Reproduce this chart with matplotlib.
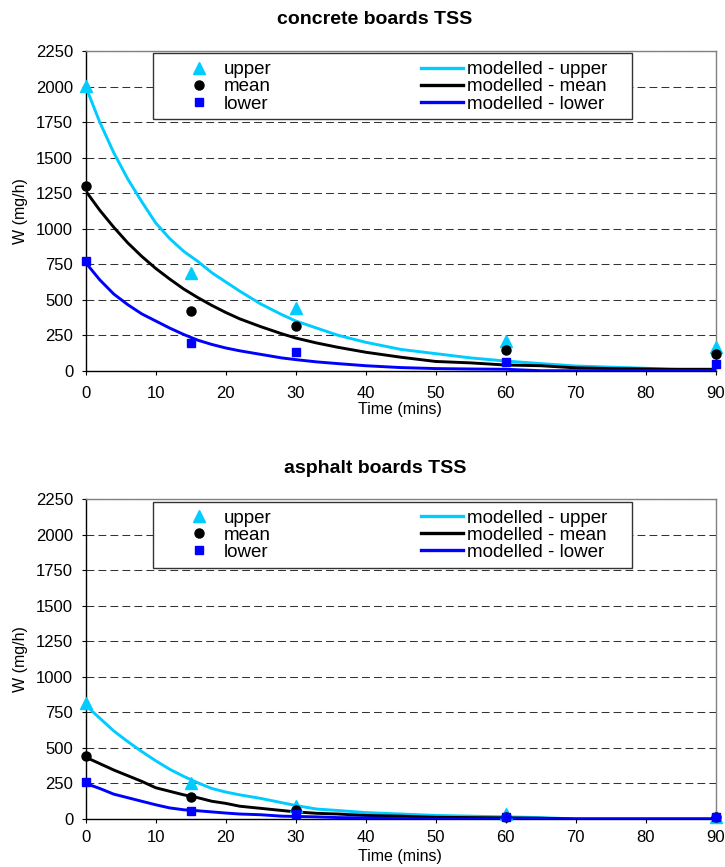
import matplotlib
matplotlib.use("Agg")
import matplotlib.pyplot as plt
from matplotlib.lines import Line2D
from matplotlib.patches import Rectangle

plt.rcParams['font.family'] = ['Liberation Sans', 'DejaVu Sans']

# observed data
t_obs = [0, 15, 30, 60, 90]
conc_upper = [2005, 685, 440, 212, 165]
conc_mean = [1300, 422, 315, 146, 115]
conc_lower = [775, 197, 135, 59, 47]
asph_upper = [814, 255, 95, 35, 15]
asph_mean = [445, 157, 60, 15, 12]
asph_lower = [260, 58, 35, 16, 15]

# modelled curves
t_mod = [0, 2, 4, 6, 8, 10, 12, 14, 16, 18, 20, 22, 25, 28, 30, 33, 36, 40,
         45, 50, 55, 60, 65, 70, 75, 80, 85, 90]
conc_mod_upper = [2000, 1750, 1535, 1350, 1190, 1040, 930, 840, 770, 690, 625, 560,
                  470, 395, 350, 300, 250, 200, 150, 120, 90, 68, 50, 33, 25, 17, 5, 0]
conc_mod_mean = [1265, 1130, 1010, 900, 805, 720, 645, 575, 515, 460, 410, 365,
                 310, 260, 230, 195, 165, 130, 95, 65, 55, 40, 35, 20, 15, 12, 10, 10]
conc_mod_lower = [760, 640, 540, 465, 400, 350, 300, 255, 215, 185, 160, 140,
                  115, 90, 78, 62, 50, 35, 22, 15, 12, 10, 0, 0, 0, 0, 0, 0]
asph_mod_upper = [800, 710, 620, 545, 475, 410, 350, 300, 255, 215, 190, 170,
                  145, 115, 95, 70, 60, 45, 35, 25, 20, 15, 10, 0, 0, 0, 0, 0]
asph_mod_mean = [435, 390, 345, 305, 265, 220, 195, 170, 150, 125, 110, 90,
                 75, 60, 50, 40, 35, 25, 20, 12, 10, 8, 5, 0, 0, 0, 0, 0]
asph_mod_lower = [250, 215, 175, 150, 125, 100, 78, 65, 58, 50, 42, 35,
                  30, 20, 18, 15, 10, 8, 3, 0, 0, 0, 0, 0, 0, 0, 0, 0]

x_ticks = list(range(0, 91, 10))
y_ticks = list(range(0, 2251, 250))

CYAN = '#00CCFF'
BLUE = '#0000FF'

fig = plt.figure(figsize=(7.25, 8.67), dpi=100)
W, H = 725, 867


def make_axes(top_px, bottom_px):
    return fig.add_axes([85.7 / W, 1 - bottom_px / H, 630 / W, (bottom_px - top_px) / H])


def draw_panel(ax, title_y, obs, mod, xpad, label_y):
    up, me, lo = obs
    mup, mme, mlo = mod
    ax.plot(t_mod, mup, color=CYAN, lw=2.1, zorder=3)
    ax.plot(t_mod, mme, color='black', lw=2.1, zorder=3)
    ax.plot(t_mod, mlo, color=BLUE, lw=2.1, zorder=3)
    ax.plot(t_obs, up, ls='none', marker='^', ms=8, color=CYAN, clip_on=False, zorder=4)
    ax.plot(t_obs, me, ls='none', marker='o', ms=6.5, color='black', clip_on=False, zorder=4)
    ax.plot(t_obs, lo, ls='none', marker='s', ms=6, color=BLUE, clip_on=False, zorder=4)

    ax.set_xlim(0, 90)
    ax.set_ylim(0, 2250)
    ax.set_xticks(x_ticks)
    ax.set_yticks(y_ticks)
    ax.tick_params(axis='both', labelsize=12, direction='out', length=3, width=0.8)
    ax.tick_params(axis='y', pad=6)
    ax.tick_params(axis='x', pad=xpad)
    ax.yaxis.grid(True, color='#333333', lw=0.75, ls=(0, (7.5, 4)), zorder=1)
    ax.set_axisbelow(True)
    for s in ['left', 'bottom']:
        ax.spines[s].set_color('black')
        ax.spines[s].set_linewidth(1)
    for s in ['top', 'right']:
        ax.spines[s].set_color('#808080')
        ax.spines[s].set_linewidth(1)

    fig.text(375 / W, 1 - title_y / H, ax.get_label(), ha='center', va='center',
             fontsize=14, fontweight='bold')
    fig.text(400 / W, 1 - label_y / H, 'Time (mins)', ha='center', va='center', fontsize=11.5)
    ax_mid = ax.get_position().y0 + ax.get_position().height / 2
    fig.text(21 / W, ax_mid, 'W (mg/h)', ha='center', va='center', rotation=90, fontsize=11.5)

    # legend frame and entries
    frame = Rectangle((0.1063, 0.7865), 0.7608, 0.2063, transform=ax.transAxes,
                      facecolor='white', edgecolor='#333333', lw=1, zorder=5)
    ax.add_patch(frame)
    handles = [
        Line2D([], [], ls='none', marker='^', ms=8, color=CYAN),
        Line2D([], [], ls='none', marker='o', ms=6.5, color='black'),
        Line2D([], [], ls='none', marker='s', ms=6, color=BLUE),
        Line2D([], [], color=CYAN, lw=2.4),
        Line2D([], [], color='black', lw=2.4),
        Line2D([], [], color=BLUE, lw=2.4),
    ]
    labels = ['upper', 'mean', 'lower', 'modelled - upper', 'modelled - mean',
              'modelled - lower']
    leg = ax.legend(handles, labels, ncol=2, mode='expand', loc='upper left',
                    bbox_to_anchor=(0.1465, 0.5, 0.6810, 0.4681), borderaxespad=0,
                    borderpad=0, frameon=False, fontsize=13.5, handlelength=2.24,
                    handletextpad=0.22, labelspacing=0.0, numpoints=1)
    leg.set_zorder(6)


ax1 = make_axes(51, 370.7)
ax1.set_label('concrete boards TSS')
draw_panel(ax1, 20, (conc_upper, conc_mean, conc_lower),
           (conc_mod_upper, conc_mod_mean, conc_mod_lower), 8, 409.3)

ax2 = make_axes(499.3, 819)
ax2.set_label('asphalt boards TSS')
draw_panel(ax2, 468.7, (asph_upper, asph_mean, asph_lower),
           (asph_mod_upper, asph_mod_mean, asph_mod_lower), 5, 857)

fig.savefig('out.png', dpi=100)
